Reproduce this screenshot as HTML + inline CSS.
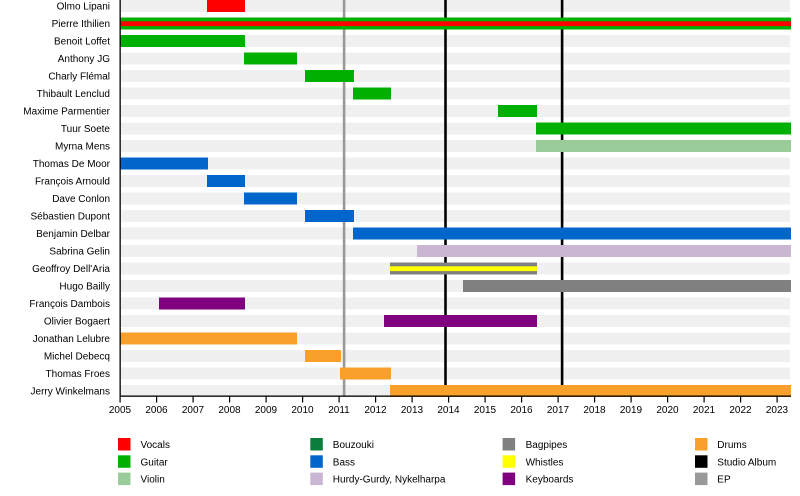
<!DOCTYPE html>
<html>
<head>
<meta charset="utf-8">
<style>
html,body{margin:0;padding:0;background:#fff;}
svg{display:block;}
text{font-family:"Liberation Sans",Arial,sans-serif;font-size:10px;fill:#000;}
</style>
</head>
<body>
<svg width="800" height="496" viewBox="0 0 800 496" xmlns="http://www.w3.org/2000/svg">
  <!-- background stripes -->
  <g fill="#f0f0f0">
    <rect x="121" y="0" width="669" height="12"/>
    <rect x="121" y="17.5" width="669" height="12"/>
    <rect x="121" y="35" width="669" height="12"/>
    <rect x="121" y="52.5" width="669" height="12"/>
    <rect x="121" y="70" width="669" height="12"/>
    <rect x="121" y="87.5" width="669" height="12"/>
    <rect x="121" y="105" width="669" height="12"/>
    <rect x="121" y="122.5" width="669" height="12"/>
    <rect x="121" y="140" width="669" height="12"/>
    <rect x="121" y="157.5" width="669" height="12"/>
    <rect x="121" y="175" width="669" height="12"/>
    <rect x="121" y="192.5" width="669" height="12"/>
    <rect x="121" y="210" width="669" height="12"/>
    <rect x="121" y="227.5" width="669" height="12"/>
    <rect x="121" y="245" width="669" height="12"/>
    <rect x="121" y="262.5" width="669" height="12"/>
    <rect x="121" y="280" width="669" height="12"/>
    <rect x="121" y="297.5" width="669" height="12"/>
    <rect x="121" y="315" width="669" height="12"/>
    <rect x="121" y="332.5" width="669" height="12"/>
    <rect x="121" y="350" width="669" height="12"/>
    <rect x="121" y="367.5" width="669" height="12"/>
    <rect x="121" y="385" width="669" height="12"/>
  </g>

  <!-- release lines -->
  <rect x="342.8" y="0" width="2.6" height="396" fill="#999999"/>
  <rect x="444.2" y="0" width="2.6" height="396" fill="#000"/>
  <rect x="560.8" y="0" width="2.6" height="396" fill="#000"/>

  <!-- bars -->
  <rect x="207" y="0" width="38" height="12" fill="#ff0000"/>
  <rect x="120" y="17.5" width="671" height="12" fill="#00b000"/>
  <rect x="120" y="21.3" width="671" height="4.8" fill="#ff0000"/>
  <rect x="120" y="35" width="125" height="12" fill="#00b000"/>
  <rect x="244" y="52.5" width="53" height="12" fill="#00b000"/>
  <rect x="305" y="70" width="49" height="12" fill="#00b000"/>
  <rect x="353" y="87.5" width="38" height="12" fill="#00b000"/>
  <rect x="498" y="105" width="39" height="12" fill="#00b000"/>
  <rect x="536" y="122.5" width="255" height="12" fill="#00b000"/>
  <rect x="536" y="140" width="255" height="12" fill="#99cc99"/>
  <rect x="120" y="157.5" width="88" height="12" fill="#0066cc"/>
  <rect x="207" y="175" width="38" height="12" fill="#0066cc"/>
  <rect x="244" y="192.5" width="53" height="12" fill="#0066cc"/>
  <rect x="305" y="210" width="49" height="12" fill="#0066cc"/>
  <rect x="353" y="227.5" width="438" height="12" fill="#0066cc"/>
  <rect x="417" y="245" width="374" height="12" fill="#c8b6d2"/>
  <rect x="390" y="262.5" width="147" height="12" fill="#808080"/>
  <rect x="390" y="266.3" width="147" height="4.8" fill="#ffff00"/>
  <rect x="463" y="280" width="328" height="12" fill="#808080"/>
  <rect x="159" y="297.5" width="86" height="12" fill="#800080"/>
  <rect x="384" y="315" width="153" height="12" fill="#800080"/>
  <rect x="120" y="332.5" width="177" height="12" fill="#f8a02a"/>
  <rect x="305" y="350" width="36" height="12" fill="#f8a02a"/>
  <rect x="340" y="367.5" width="51" height="12" fill="#f8a02a"/>
  <rect x="390" y="385" width="401" height="12" fill="#f8a02a"/>

  <!-- axes -->
  <rect x="119.5" y="0" width="1.3" height="397" fill="#000"/>
  <rect x="119.5" y="395.5" width="671.5" height="1.3" fill="#000"/>
  <g fill="#000">
    <rect x="119.5" y="396" width="1.2" height="6.5"/>
    <rect x="156" y="396" width="1.2" height="6.5"/>
    <rect x="192.5" y="396" width="1.2" height="6.5"/>
    <rect x="229" y="396" width="1.2" height="6.5"/>
    <rect x="265.5" y="396" width="1.2" height="6.5"/>
    <rect x="302" y="396" width="1.2" height="6.5"/>
    <rect x="338.5" y="396" width="1.2" height="6.5"/>
    <rect x="375" y="396" width="1.2" height="6.5"/>
    <rect x="411.5" y="396" width="1.2" height="6.5"/>
    <rect x="448" y="396" width="1.2" height="6.5"/>
    <rect x="484.5" y="396" width="1.2" height="6.5"/>
    <rect x="521" y="396" width="1.2" height="6.5"/>
    <rect x="557.5" y="396" width="1.2" height="6.5"/>
    <rect x="594" y="396" width="1.2" height="6.5"/>
    <rect x="630.5" y="396" width="1.2" height="6.5"/>
    <rect x="667" y="396" width="1.2" height="6.5"/>
    <rect x="703.5" y="396" width="1.2" height="6.5"/>
    <rect x="740" y="396" width="1.2" height="6.5"/>
    <rect x="776.5" y="396" width="1.2" height="6.5"/>
  </g>
  <g text-anchor="middle">
    <text x="120" y="413">2005</text>
    <text x="156.5" y="413">2006</text>
    <text x="193" y="413">2007</text>
    <text x="229.5" y="413">2008</text>
    <text x="266" y="413">2009</text>
    <text x="302.5" y="413">2010</text>
    <text x="339" y="413">2011</text>
    <text x="375.5" y="413">2012</text>
    <text x="412" y="413">2013</text>
    <text x="448.5" y="413">2014</text>
    <text x="485" y="413">2015</text>
    <text x="521.5" y="413">2016</text>
    <text x="558" y="413">2017</text>
    <text x="594.5" y="413">2018</text>
    <text x="631" y="413">2019</text>
    <text x="667.5" y="413">2020</text>
    <text x="704" y="413">2021</text>
    <text x="740.5" y="413">2022</text>
    <text x="777" y="413">2023</text>
  </g>

  <!-- row labels -->
  <g text-anchor="end">
    <text x="110" y="9.6">Olmo Lipani</text>
    <text x="110" y="27.1">Pierre Ithilien</text>
    <text x="110" y="44.6">Benoit Loffet</text>
    <text x="110" y="62.1">Anthony JG</text>
    <text x="110" y="79.6">Charly Flémal</text>
    <text x="110" y="97.1">Thibault Lenclud</text>
    <text x="110" y="114.6">Maxime Parmentier</text>
    <text x="110" y="132.1">Tuur Soete</text>
    <text x="110" y="149.6">Myrna Mens</text>
    <text x="110" y="167.1">Thomas De Moor</text>
    <text x="110" y="184.6">François Arnould</text>
    <text x="110" y="202.1">Dave Conlon</text>
    <text x="110" y="219.6">Sébastien Dupont</text>
    <text x="110" y="237.1">Benjamin Delbar</text>
    <text x="110" y="254.6">Sabrina Gelin</text>
    <text x="110" y="272.1">Geoffroy Dell'Aria</text>
    <text x="110" y="289.6">Hugo Bailly</text>
    <text x="110" y="307.1">François Dambois</text>
    <text x="110" y="324.6">Olivier Bogaert</text>
    <text x="110" y="342.1">Jonathan Lelubre</text>
    <text x="110" y="359.6">Michel Debecq</text>
    <text x="110" y="377.1">Thomas Froes</text>
    <text x="110" y="394.6">Jerry Winkelmans</text>
  </g>

  <!-- legend -->
  <rect x="118" y="438" width="12.5" height="12.5" fill="#ff0000"/>
  <text x="140.5" y="448">Vocals</text>
  <rect x="118" y="455.3" width="12.5" height="12.5" fill="#00b000"/>
  <text x="140.5" y="465.3">Guitar</text>
  <rect x="118" y="472.6" width="12.5" height="12.5" fill="#99cc99"/>
  <text x="140.5" y="482.6">Violin</text>

  <rect x="310.3" y="438" width="12.5" height="12.5" fill="#0b7d3c"/>
  <text x="332.8" y="448">Bouzouki</text>
  <rect x="310.3" y="455.3" width="12.5" height="12.5" fill="#0066cc"/>
  <text x="332.8" y="465.3">Bass</text>
  <rect x="310.3" y="472.6" width="12.5" height="12.5" fill="#c8b6d2"/>
  <text x="332.8" y="482.6">Hurdy-Gurdy, Nykelharpa</text>

  <rect x="502.6" y="438" width="12.5" height="12.5" fill="#808080"/>
  <text x="525.6" y="448">Bagpipes</text>
  <rect x="502.6" y="455.3" width="12.5" height="12.5" fill="#ffff00"/>
  <text x="525.6" y="465.3">Whistles</text>
  <rect x="502.6" y="472.6" width="12.5" height="12.5" fill="#800080"/>
  <text x="525.6" y="482.6">Keyboards</text>

  <rect x="695" y="438" width="12.5" height="12.5" fill="#f8a02a"/>
  <text x="717.3" y="448">Drums</text>
  <rect x="695" y="455.3" width="12.5" height="12.5" fill="#000000"/>
  <text x="717.3" y="465.3">Studio Album</text>
  <rect x="695" y="472.6" width="12.5" height="12.5" fill="#999999"/>
  <text x="717.3" y="482.6">EP</text>
</svg>
</body>
</html>
